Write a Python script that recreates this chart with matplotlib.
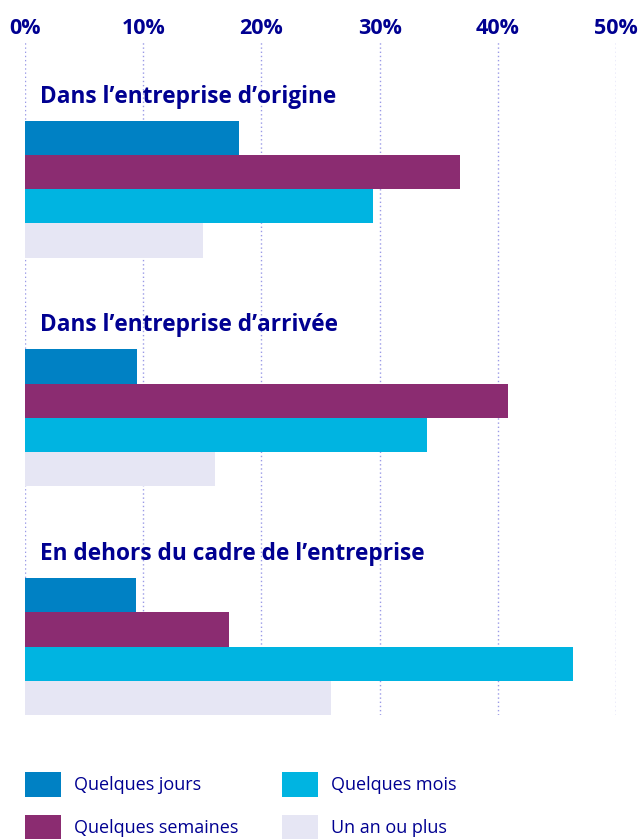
import numpy as np
import matplotlib.pyplot as plt

plt.rcParams['font.family'] = ['Open Sans', 'DejaVu Sans']

groups = ["Dans l\u2019entreprise d\u2019origine",
          "Dans l\u2019entreprise d\u2019arriv\u00e9e",
          "En dehors du cadre de l\u2019entreprise"]
series = ["Quelques jours", "Quelques semaines", "Quelques mois", "Un an ou plus"]
jours = [18.1, 9.5, 9.4]
semaines = [36.8, 40.9, 17.3]
mois = [29.4, 34.0, 46.4]
an = [15.1, 16.1, 25.9]
ticks = [0, 10, 20, 30, 40, 50]

colors = ["#0081c4", "#8b2c71", "#00b4e1", "#e6e6f4"]
navy = "#000091"

W, H = 644, 839
fig = plt.figure(figsize=(W / 100, H / 100), dpi=100)
ax = fig.add_axes([25 / W, 1 - 715 / H, (616 - 25) / W, (715 - 42) / H])

gap = 6.68  # group spacing in bar heights
values = [jours, semaines, mois, an]
for s, vals in enumerate(values):
    ypos = np.arange(len(groups)) * gap + s
    ax.barh(ypos, vals, height=1.0, color=colors[s], label=series[s], zorder=2)

for g, name in enumerate(groups):
    ax.text(1.3, g * gap - 1.2, name, color=navy, fontsize=16.3,
            fontweight='bold', va='center', ha='left')

ax.set_xlim(0, 50)
ax.set_ylim(2 * gap + 3.5, -2.8)
ax.set_yticks([])
ax.xaxis.tick_top()
ax.set_xticks(ticks)
ax.set_xticklabels([f"{t}%" for t in ticks], color=navy, fontsize=15.5,
                   fontweight='bold')
ax.tick_params(axis='x', length=0, pad=2)
ax.grid(axis='x', linestyle=(0, (1, 2)), color="#9a9ae6", linewidth=1, zorder=1)
for sp in ax.spines.values():
    sp.set_visible(False)

h, l = ax.get_legend_handles_labels()
leg = fig.legend(h, l, loc='upper left', bbox_to_anchor=(25 / W, 1 - 772 / H),
                 ncol=2, frameon=False, fontsize=13, handlelength=2.0,
                 handleheight=1.75, handletextpad=0.72, columnspacing=2.4,
                 labelspacing=1.0, borderaxespad=0, borderpad=0)
for t in leg.get_texts():
    t.set_color(navy)

fig.savefig("out.png", dpi=100)
